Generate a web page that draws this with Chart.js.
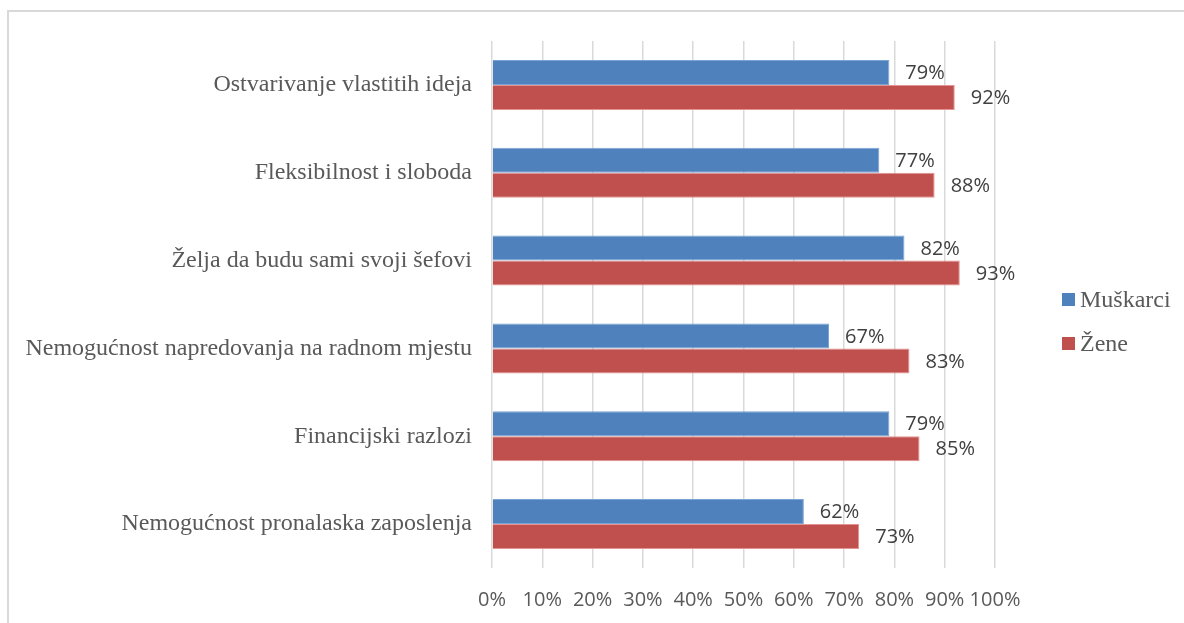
<!DOCTYPE html>
<html>
<head>
<meta charset="utf-8">
<script src="https://cdn.jsdelivr.net/npm/chart.js@4"></script>
<style>
  html, body { margin: 0; padding: 0; background: #fff; }
  #frame { position: absolute; left: 7px; top: 10px; width: 1300px; height: 700px; border: 2px solid #d9d9d9; box-sizing: border-box; }
  #wrap { position: absolute; left: 0; top: 0; width: 1184px; height: 623px; }
</style>
</head>
<body>
<div id="frame"></div>
<div id="wrap"><canvas id="chart"></canvas></div>
<script>
const categories = [
  'Ostvarivanje vlastitih ideja',
  'Fleksibilnost i sloboda',
  'Želja da budu sami svoji šefovi',
  'Nemogućnost napredovanja na radnom mjestu',
  'Financijski razlozi',
  'Nemogućnost pronalaska zaposlenja'
];
const muskarci = [79, 77, 82, 67, 79, 62];
const zene = [92, 88, 93, 83, 85, 73];
const xTicks = [0, 10, 20, 30, 40, 50, 60, 70, 80, 90, 100];

const serif = '"Liberation Serif", "Times New Roman", serif';
const sans = '"Open Sans", "DejaVu Sans", sans-serif';

// etikete s vrijednostima desno od stupaca
const valueLabels = {
  id: 'valueLabels',
  afterDatasetsDraw(chart) {
    const ctx = chart.ctx;
    ctx.save();
    ctx.font = '20px ' + sans;
    ctx.fillStyle = '#404040';
    ctx.textBaseline = 'middle';
    ctx.textAlign = 'left';
    chart.data.datasets.forEach((ds, i) => {
      chart.getDatasetMeta(i).data.forEach((bar, j) => {
        ctx.fillText(ds.data[j] + '%', bar.x + 16, bar.y + 1);
      });
    });
    ctx.restore();
  }
};

// legenda desno, kao u Excelu
const sideLegend = {
  id: 'sideLegend',
  afterDraw(chart) {
    const ctx = chart.ctx;
    const area = chart.chartArea;
    const x = area.right + 67;
    const midY = (area.top + area.bottom) / 2;
    ctx.save();
    ctx.font = '24px ' + serif;
    ctx.textBaseline = 'middle';
    chart.data.datasets.forEach((ds, i) => {
      const y = midY - 5 + i * 44;
      ctx.fillStyle = ds.backgroundColor;
      ctx.fillRect(x, y - 6.5, 13, 13);
      ctx.fillStyle = '#595959';
      ctx.fillText(ds.label, x + 18, y + 1);
    });
    ctx.restore();
  }
};

new Chart(document.getElementById('chart'), {
  type: 'bar',
  data: {
    labels: categories,
    datasets: [
      { label: 'Muškarci', data: muskarci, backgroundColor: '#4F81BD', borderColor: '#7AA3D6', borderWidth: 1 },
      { label: 'Žene', data: zene, backgroundColor: '#C0504D', borderColor: '#E39391', borderWidth: 1 }
    ]
  },
  options: {
    indexAxis: 'y',
    responsive: true,
    maintainAspectRatio: false,
    animation: false,
    layout: { padding: { top: 41, right: 189, bottom: 11, left: 8 } },
    datasets: { bar: { categoryPercentage: 0.57, barPercentage: 1 } },
    plugins: { legend: { display: false }, tooltip: { enabled: false } },
    scales: {
      x: {
        min: 0,
        max: 100,
        afterBuildTicks: (scale) => { scale.ticks = xTicks.map(v => ({ value: v })); },
        afterFit: (scale) => { scale.height = 44; },
        ticks: { callback: v => v + '%', padding: 20, maxRotation: 0, minRotation: 0, autoSkip: false, font: { family: sans, size: 20 }, color: '#595959' },
        grid: { color: '#d9d9d9', lineWidth: 1.5, drawTicks: false },
        border: { display: false }
      },
      y: {
        afterFit: (scale) => { scale.width = 484; },
        ticks: { padding: 12, font: { family: serif, size: 24 }, color: '#595959' },
        grid: { display: false },
        border: { display: false }
      }
    }
  },
  plugins: [valueLabels, sideLegend]
});
</script>
</body>
</html>
